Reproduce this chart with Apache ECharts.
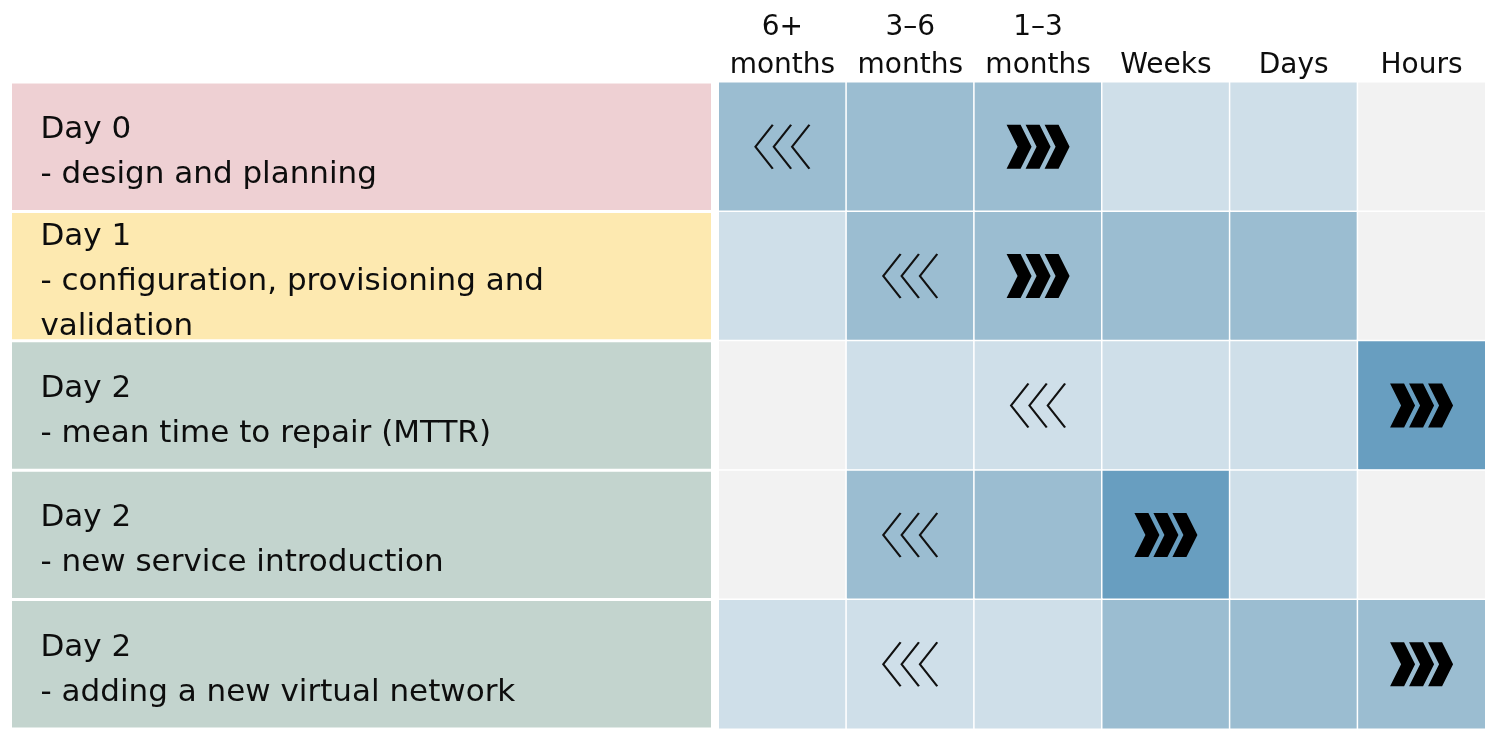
<!DOCTYPE html>
<html>
<head>
<meta charset="utf-8">
<title>Lead time by phase</title>
<script src="https://cdn.jsdelivr.net/npm/echarts@6/dist/echarts.min.js"></script>
<style>
  html, body { margin: 0; padding: 0; background: #ffffff; }
  #chart { width: 1491px; height: 729px; }
</style>
</head>
<body>
<div id="chart"></div>
<script>
// column headers (time buckets)
const columns = ['6+\nmonths', '3–6\nmonths', '1–3\nmonths', 'Weeks', 'Days', 'Hours']
// row labels (phases)
const rowLabels = [
  'Day 0\n- design and planning',
  'Day 1\n- configuration, provisioning and\nvalidation',
  'Day 2\n- mean time to repair (MTTR)',
  'Day 2\n- new service introduction',
  'Day 2\n- adding a new virtual network'
]
// shade level per cell: 0 = none, 1 = light, 2 = medium, 3 = strong
const levels = [
  [2, 2, 2, 1, 1, 0],
  [1, 2, 2, 2, 2, 0],
  [0, 1, 1, 1, 1, 3],
  [0, 2, 2, 3, 1, 0],
  [1, 1, 1, 2, 2, 2]
]
// [column, row] of the "today" (thin) and "target" (bold) chevrons
const currentMarks = [[0, 0], [1, 1], [2, 2], [1, 3], [1, 4]]
const targetMarks = [[2, 0], [2, 1], [5, 2], [3, 3], [5, 4]]

const levelColors = ['#f2f2f2', '#cfdfe9', '#9bbdd1', '#689ec0']
const rowColors = ['#eed0d3', '#fde9b0', '#c3d4ce', '#c3d4ce', '#c3d4ce']
const font = 'DejaVu Sans'

const heatData = []
levels.forEach((row, y) => {
  row.forEach((v, x) => heatData.push([x, y, v]))
})

const thinPath = 'path://M18,0 L0,22 L18,44 M37,0 L19,22 L37,44 M56,0 L38,22 L56,44'
const boldPath = 'path://M0,0 L14,0 L25,22 L14,44 L0,44 L11,22 Z M19,0 L33,0 L44,22 L33,44 L19,44 L30,22 Z M38,0 L52,0 L63,22 L52,44 L38,44 L49,22 Z'

const myChart = echarts.init(document.getElementById('chart'))
const option = {
  animation: false,
  grid: [
    { left: 718.5, right: 5.5, top: 82, bottom: -5 },
    { left: 10.5, right: 778.5, top: 82, bottom: -5 }
  ],
  xAxis: [
    {
      type: 'category',
      gridIndex: 0,
      position: 'top',
      data: columns,
      axisLine: { show: false },
      axisTick: { show: false },
      splitLine: { show: false },
      axisLabel: {
        interval: 0,
        color: '#0d0d0d',
        fontFamily: font,
        fontSize: 28,
        lineHeight: 38,
        margin: -3
      }
    },
    { type: 'value', gridIndex: 1, min: 0, max: 1, show: false }
  ],
  yAxis: [
    { type: 'category', gridIndex: 0, inverse: true, data: rowLabels, show: false },
    { type: 'category', gridIndex: 1, inverse: true, data: rowLabels, show: false }
  ],
  visualMap: {
    type: 'piecewise',
    show: false,
    seriesIndex: 0,
    dimension: 2,
    pieces: levelColors.map((c, i) => ({ value: i, color: c }))
  },
  series: [
    {
      type: 'heatmap',
      xAxisIndex: 0,
      yAxisIndex: 0,
      data: heatData,
      silent: true,
      itemStyle: { borderColor: '#ffffff', borderWidth: 1.5 },
      label: { show: false },
      emphasis: { disabled: true }
    },
    {
      type: 'scatter',
      xAxisIndex: 0,
      yAxisIndex: 0,
      data: currentMarks,
      silent: true,
      symbol: thinPath,
      symbolSize: [54, 44],
      itemStyle: { color: 'rgba(0,0,0,0)', borderColor: '#111111', borderWidth: 2, opacity: 1 },
      emphasis: { disabled: true },
      z: 5
    },
    {
      type: 'scatter',
      xAxisIndex: 0,
      yAxisIndex: 0,
      data: targetMarks,
      silent: true,
      symbol: boldPath,
      symbolSize: [63, 44],
      itemStyle: { color: '#000000', opacity: 1 },
      emphasis: { disabled: true },
      z: 5
    },
    {
      type: 'bar',
      xAxisIndex: 1,
      yAxisIndex: 1,
      barWidth: '100%',
      silent: true,
      data: rowLabels.map((r, i) => ({
        value: 1,
        itemStyle: { color: rowColors[i] }
      })),
      itemStyle: { borderColor: '#ffffff', borderWidth: 1.5 },
      label: {
        show: true,
        position: 'insideLeft',
        distance: 30,
        offset: [0, 6],
        formatter: (p) => rowLabels[p.dataIndex],
        color: '#0d0d0d',
        fontFamily: font,
        fontSize: 31,
        lineHeight: 45
      },
      emphasis: { disabled: true }
    }
  ]
}
myChart.setOption(option)
</script>
</body>
</html>
